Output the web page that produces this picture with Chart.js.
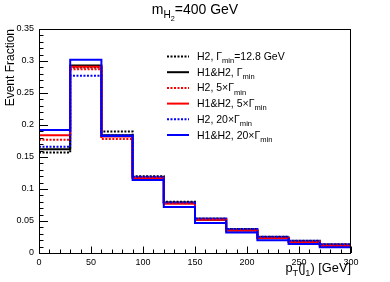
<!DOCTYPE html>
<html>
<head>
<meta charset="utf-8">
<script src="https://cdn.jsdelivr.net/npm/chart.js@4"></script>
<style>
  html, body { margin: 0; padding: 0; background: #fff; }
  #wrap { width: 390px; height: 282px; }
</style>
</head>
<body>
<div id="wrap"><canvas id="myChart" width="390" height="282"></canvas></div>
<script>
// bin edges in pT(j1) [GeV]
const binEdges = [0, 30, 60, 90, 120, 150, 180, 210, 240, 270, 300];

// event fraction per bin
const h2Gmin    = [0.157, 0.290, 0.190, 0.120, 0.080, 0.054, 0.0375, 0.0255, 0.019, 0.0136];
const h1h2Gmin  = [0.162, 0.293, 0.184, 0.118, 0.079, 0.052, 0.035, 0.024, 0.017, 0.012];
const h2G5      = [0.177, 0.287, 0.178, 0.118, 0.078, 0.053, 0.036, 0.024, 0.018, 0.013];
const h1h2G5    = [0.184, 0.291, 0.182, 0.117, 0.077, 0.052, 0.035, 0.023, 0.0167, 0.011];
const h2G20     = [0.166, 0.277, 0.184, 0.119, 0.079, 0.054, 0.0375, 0.0255, 0.019, 0.0136];
const h1h2G20   = [0.192, 0.302, 0.183, 0.114, 0.072, 0.047, 0.032, 0.020, 0.014, 0.009];

const yTicks = [0, 0.05, 0.1, 0.15, 0.2, 0.25, 0.3, 0.35];
const xTicks = [0, 50, 100, 150, 200, 250, 300];

// legend labels, pieces: [text, subscript level]
const legendLabels = [
  [["H2, Γ", 0], ["min", 1], ["=12.8 GeV", 0]],
  [["H1&H2, Γ", 0], ["min", 1]],
  [["H2, 5×Γ", 0], ["min", 1]],
  [["H1&H2, 5×Γ", 0], ["min", 1]],
  [["H2, 20×Γ", 0], ["min", 1]],
  [["H1&H2, 20×Γ", 0], ["min", 1]]
];
const titleParts = [["m", 0], ["H", 1], ["2", 2], ["=400 GeV", 0]];
const xTitleParts = [["p", 0], ["T", 1], ["(j", 0], ["1", 1], [") [GeV]", 0]];

const FONT = "'Liberation Sans', Arial, sans-serif";

// low edge of each bin, plus the upper edge of the last one
function histPoints(vals) {
  let pts = vals.map((v, i) => ({x: binEdges[i], y: v}));
  pts.push({x: binEdges[binEdges.length - 1], y: vals[vals.length - 1]});
  return pts;
}

const series = [
  {data: h2Gmin,   color: '#000000', dash: [2, 1.5]},
  {data: h1h2Gmin, color: '#000000', dash: []},
  {data: h2G5,     color: '#ff0000', dash: [2, 1.5]},
  {data: h1h2G5,   color: '#ff0000', dash: []},
  {data: h2G20,    color: '#0000ff', dash: [2, 1.5]},
  {data: h1h2G20,  color: '#0000ff', dash: []}
];

// text with sub/subsub scripts
function richWidth(ctx, parts, size) {
  let w = 0;
  for (const [t, lvl] of parts) {
    ctx.font = (size * Math.pow(0.72, lvl)) + 'px ' + FONT;
    w += ctx.measureText(t).width;
  }
  return w;
}
function drawRich(ctx, parts, x, y, size) {
  for (const [t, lvl] of parts) {
    const s = size * Math.pow(0.72, lvl);
    ctx.font = s + 'px ' + FONT;
    let dy = 0;
    if (lvl == 1) dy = size * 0.3;
    if (lvl == 2) dy = size * 0.5;
    ctx.fillText(t, x, y + dy);
    x += ctx.measureText(t).width;
  }
}

const rootStyle = {
  id: 'rootStyle',
  afterDatasetsDraw(chart) {
    const ctx = chart.ctx;
    const a = chart.chartArea;
    const xs = chart.scales.x, ys = chart.scales.y;
    ctx.save();
    // frame
    ctx.strokeStyle = '#000';
    ctx.lineWidth = 1;
    ctx.strokeRect(a.left + 0.5, a.top + 0.5, a.right - a.left - 1, a.bottom - a.top);
    // y ticks (inside)
    ctx.beginPath();
    for (let v = 0; v <= 0.3501; v += 0.01) {
      const py = Math.round(ys.getPixelForValue(v)) + 0.5;
      const major = Math.abs(v / 0.05 - Math.round(v / 0.05)) < 1e-6;
      ctx.moveTo(a.left, py);
      ctx.lineTo(a.left + (major ? 9 : 4.5), py);
    }
    // x ticks (inside)
    for (let v = 0; v <= 300; v += 10) {
      const px = Math.round(xs.getPixelForValue(v)) + 0.5;
      const major = v % 50 == 0;
      ctx.moveTo(px, a.bottom);
      ctx.lineTo(px, a.bottom - (major ? 6.5 : 3.5));
    }
    ctx.stroke();

    ctx.fillStyle = '#000';
    ctx.textBaseline = 'alphabetic';
    // title
    const tw = richWidth(ctx, titleParts, 14);
    drawRich(ctx, titleParts, 195 - tw / 2, 14, 14);
    // x title, right aligned
    const xw = richWidth(ctx, xTitleParts, 12.8);
    drawRich(ctx, xTitleParts, a.right - xw, 272, 12.8);
    // y title, rotated, aligned to top
    ctx.save();
    ctx.translate(14, a.top);
    ctx.rotate(-Math.PI / 2);
    ctx.font = '12px ' + FONT;
    ctx.textAlign = 'right';
    ctx.fillText('Event Fraction', 0, 0);
    ctx.restore();

    // legend
    ctx.textAlign = 'left';
    legendLabels.forEach((parts, i) => {
      const cy = 56.5 + i * 15.7;
      ctx.beginPath();
      ctx.strokeStyle = series[i].color;
      ctx.lineWidth = 2;
      ctx.setLineDash(series[i].dash);
      ctx.moveTo(167, cy);
      ctx.lineTo(189, cy);
      ctx.stroke();
      ctx.setLineDash([]);
      ctx.fillStyle = '#000';
      drawRich(ctx, parts, 197, cy + 3.5, 10.5);
    });
    ctx.restore();
  }
};

new Chart(document.getElementById('myChart'), {
  type: 'line',
  data: {
    datasets: series.map((s, i) => ({
      label: 'series' + i,
      data: histPoints(s.data),
      borderColor: s.color,
      borderWidth: 2,
      borderDash: s.dash,
      stepped: 'before',
      pointRadius: 0,
      fill: false,
      order: series.length - i
    }))
  },
  options: {
    responsive: false,
    animation: false,
    layout: {padding: {top: 29, right: 39, left: 0, bottom: 0}},
    plugins: {legend: {display: false}, tooltip: {enabled: false}, title: {display: false}},
    scales: {
      x: {
        type: 'linear', min: 0, max: 300,
        grid: {display: false, drawTicks: false},
        border: {display: false},
        afterFit(s) { s.height = 29; },
        afterBuildTicks(s) { s.ticks = xTicks.map(v => ({value: v})); },
        ticks: {padding: 4, font: {size: 9, family: FONT}, color: '#000', maxRotation: 0,
                callback: v => String(v)}
      },
      y: {
        type: 'linear', min: 0, max: 0.35,
        grid: {display: false, drawTicks: false},
        border: {display: false},
        afterFit(s) { s.width = 39; },
        afterBuildTicks(s) { s.ticks = yTicks.map(v => ({value: v})); },
        ticks: {padding: 5, font: {size: 9, family: FONT}, color: '#000',
                callback: v => String(Math.round(v * 100) / 100)}
      }
    }
  },
  plugins: [rootStyle]
});
</script>
</body>
</html>
